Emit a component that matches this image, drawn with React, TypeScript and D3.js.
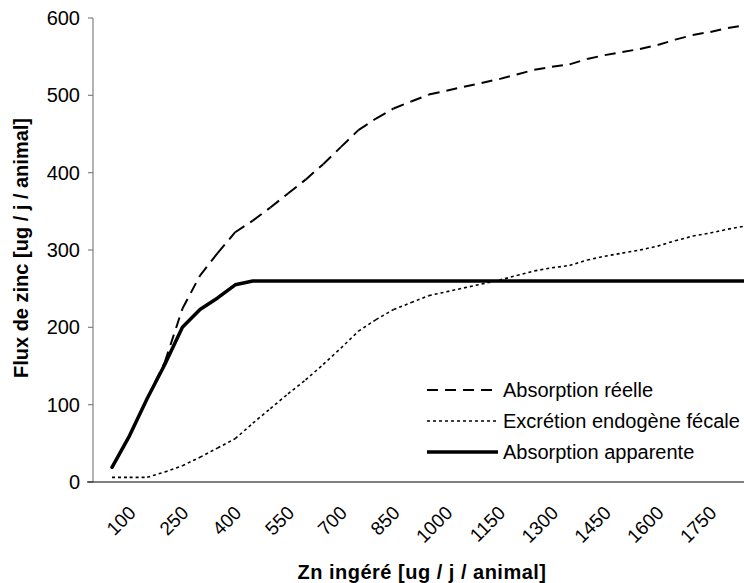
import React from "react";
import * as d3 from "d3";

const intake = [100,150,200,250,300,350,400,450,500,550,600,650,700,750,800,850,900,950,1000,1050,1100,1150,1200,1250,1300,1350,1400,1450,1500,1550,1600,1650,1700,1750,1800,1850,1900];
const tickLabels = ["100","250","400","550","700","850","1000","1150","1300","1450","1600","1750"];
const yTicks = [0,100,200,300,400,500,600];

const absReelle = [19,60,108,155,224,267,296,323,338,355,373,391,411,433,455,470,483,492,501,506,511,516,521,527,533,537,540,547,552,556,560,565,572,578,582,587,591];
const excretion = [6,6,6,13,21,32,44,56,76,95,114,132,152,173,195,210,223,232,241,246,251,256,261,267,273,277,280,287,292,296,300,305,312,318,322,327,331];
const absApparente = [19,60,108,152,200,223,238,255,260,260,260,260,260,260,260,260,260,260,260,260,260,260,260,260,260,260,260,260,260,260,260,260,260,260,260,260,260];

const seriesNames = ["Absorption réelle","Excrétion endogène fécale","Absorption apparente"];

const FONT = "Liberation Sans, Arial, Helvetica, sans-serif";

export default function App() {
  const W = 744, H = 583;
  const x = d3.scaleLinear().domain([100, 1900]).range([112, 745.6]);
  const y = d3.scaleLinear().domain([0, 600]).range([482, 18]);
  const line = d3.line<[number, number]>().x(d => x(d[0])).y(d => y(d[1]));

  const segs = (vals: number[]) => {
    const out: string[] = [];
    for (let i = 0; i < vals.length - 1; i++) {
      out.push(line([[intake[i], vals[i]], [intake[i + 1], vals[i + 1]]]) as string);
    }
    return out;
  };

  const styles = [
    { w: 2, dash: "11,7" },
    { w: 1.6, dash: "3,3" },
    { w: 3.5, dash: "" },
  ];
  const data = [absReelle, excretion, absApparente];
  const legendY = [390, 421, 452];

  return (
    <svg width={W} height={H} style={{ position: "absolute", left: 0, top: 0, background: "#fff" }} fontFamily={FONT}>
      {/* y axis */}
      <line x1={93} x2={93} y1={y(600)} y2={y(0)} stroke="#808080" strokeWidth={1.2} />
      {yTicks.map(t => (
        <g key={t}>
          <line x1={88} x2={93} y1={y(t)} y2={y(t)} stroke="#808080" strokeWidth={1.2} />
          <text x={80} y={y(t)} dy="0.35em" textAnchor="end" fontSize={20}>{t}</text>
        </g>
      ))}
      {/* x axis */}
      <line x1={87} x2={W} y1={y(0)} y2={y(0)} stroke="#000" strokeWidth={1.2} />
      {tickLabels.map(l => {
        const px = x(+l) + 25;
        const py = 514;
        return (
          <text key={l} x={px} y={py} textAnchor="end" fontSize={19} transform={`rotate(-45 ${px} ${py})`}>{l}</text>
        );
      })}
      {/* series */}
      {data.map((vals, k) => (
        <g key={k}>
          {k === 2 ? (
            <path d={line(vals.map((v, i) => [intake[i], v] as [number, number])) as string} fill="none" stroke="#000" strokeWidth={styles[k].w} strokeLinejoin="round" strokeLinecap="round" />
          ) : (
            segs(vals).map((d, i) => (
              <path key={i} d={d} fill="none" stroke="#000" strokeWidth={styles[k].w} strokeDasharray={styles[k].dash} />
            ))
          )}
        </g>
      ))}
      {/* legend */}
      {seriesNames.map((n, k) => (
        <g key={n}>
          <line x1={427} x2={498} y1={legendY[k]} y2={legendY[k]} stroke="#000" strokeWidth={styles[k].w} strokeDasharray={styles[k].dash || undefined} />
          <text x={503} y={legendY[k]} dy="0.35em" fontSize={20}>{n}</text>
        </g>
      ))}
      {/* titles */}
      <text x={422} y={579} textAnchor="middle" fontSize={20} fontWeight="bold" letterSpacing={0.5}>Zn ingéré [ug / j / animal]</text>
      <text transform={`translate(28 248) rotate(-90)`} textAnchor="middle" fontSize={20} fontWeight="bold">Flux de zinc [ug / j / animal]</text>
    </svg>
  );
}
